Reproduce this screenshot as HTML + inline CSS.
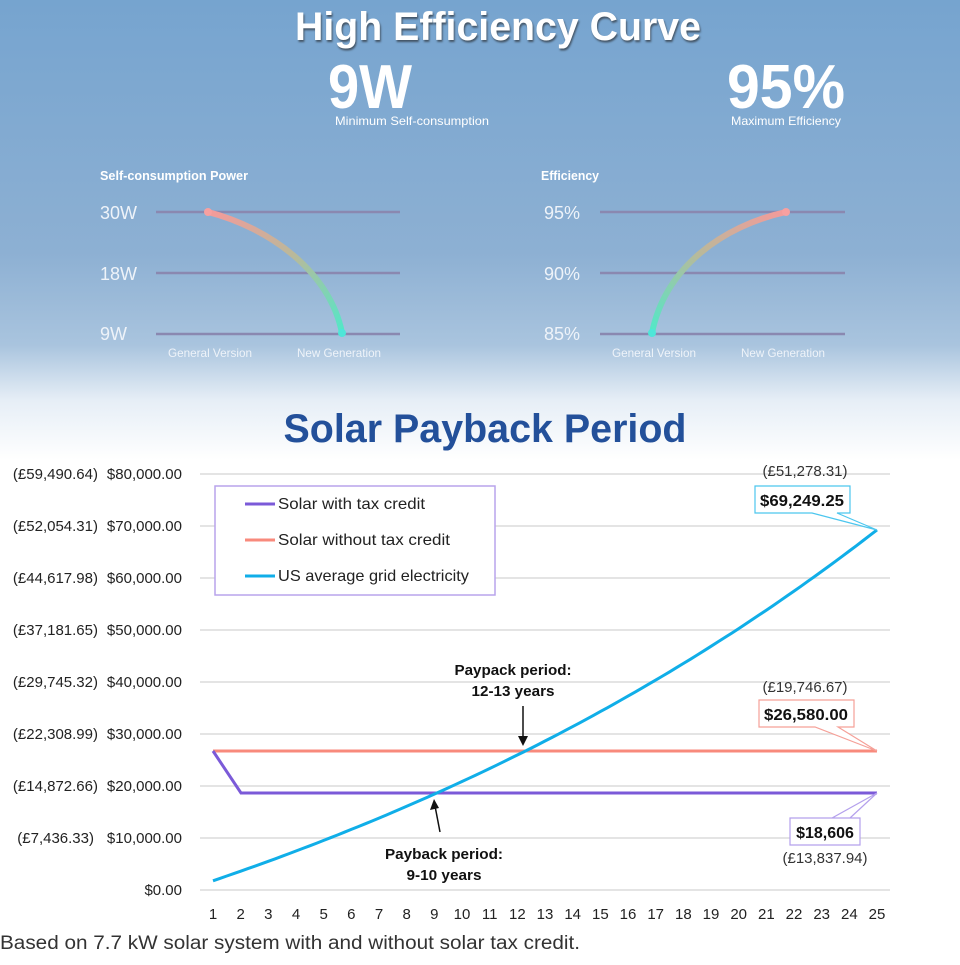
<!DOCTYPE html>
<html><head><meta charset="utf-8"><style>
body{margin:0;width:960px;height:960px;overflow:hidden;font-family:"Liberation Sans",sans-serif;background:#fff}
</style></head><body>
<svg width="960" height="960" viewBox="0 0 960 960" xmlns="http://www.w3.org/2000/svg">
<defs>
<linearGradient id="sky" x1="0" y1="0" x2="0" y2="1">
<stop offset="0" stop-color="#76a4cf"/>
<stop offset="0.55" stop-color="#8db0d3"/>
<stop offset="0.75" stop-color="#a9c4de"/>
<stop offset="0.87" stop-color="#e6eef6"/>
<stop offset="1" stop-color="#ffffff"/>
</linearGradient>
<linearGradient id="g1" x1="0" y1="0" x2="1" y2="1"><stop offset="0" stop-color="#f59a9a"/><stop offset="0.5" stop-color="#b9b99a"/><stop offset="1" stop-color="#52e8c8"/></linearGradient>
<linearGradient id="g2" x1="1" y1="0" x2="0" y2="1"><stop offset="0" stop-color="#f59a9a"/><stop offset="0.5" stop-color="#b9b99a"/><stop offset="1" stop-color="#52e8c8"/></linearGradient>
</defs>
<rect x="0" y="0" width="960" height="460" fill="url(#sky)"/>
<g font-family="Liberation Sans Narrow, Liberation Sans, sans-serif" fill="#fff">
<text x="498" y="40" font-size="40" font-weight="bold" text-anchor="middle" textLength="406" lengthAdjust="spacingAndGlyphs" style="text-shadow:1px 2px 2px #456">High Efficiency Curve</text>
<text x="370" y="108" font-size="62" font-weight="bold" text-anchor="middle" textLength="84" lengthAdjust="spacingAndGlyphs">9W</text>
<text x="412" y="125" font-size="12" text-anchor="middle" textLength="154" lengthAdjust="spacingAndGlyphs">Minimum Self-consumption</text>
<text x="786" y="108" font-size="62" font-weight="bold" text-anchor="middle" textLength="118" lengthAdjust="spacingAndGlyphs">95%</text>
<text x="786" y="125" font-size="12" text-anchor="middle" textLength="110" lengthAdjust="spacingAndGlyphs">Maximum Efficiency</text>
<text x="100" y="180" font-size="13" font-weight="bold" textLength="148" lengthAdjust="spacingAndGlyphs">Self-consumption Power</text>
<text x="541" y="180" font-size="13" font-weight="bold" textLength="58" lengthAdjust="spacingAndGlyphs">Efficiency</text>
<g font-size="18" fill="#eef3f9">
<text x="100" y="219">30W</text><text x="100" y="280">18W</text><text x="100" y="340">9W</text>
<text x="544" y="219">95%</text><text x="544" y="280">90%</text><text x="544" y="340">85%</text>
</g>
<g font-size="12" fill="#eef3f9" text-anchor="middle">
<text x="210" y="357" textLength="84" lengthAdjust="spacingAndGlyphs">General Version</text><text x="339" y="357" textLength="84" lengthAdjust="spacingAndGlyphs">New Generation</text>
<text x="654" y="357" textLength="84" lengthAdjust="spacingAndGlyphs">General Version</text><text x="783" y="357" textLength="84" lengthAdjust="spacingAndGlyphs">New Generation</text>
</g>
</g>
<g stroke="#8a88b0" stroke-width="2.5">
<line x1="156" y1="212" x2="400" y2="212"/><line x1="156" y1="273" x2="400" y2="273"/><line x1="156" y1="334" x2="400" y2="334"/>
<line x1="600" y1="212" x2="845" y2="212"/><line x1="600" y1="273" x2="845" y2="273"/><line x1="600" y1="334" x2="845" y2="334"/>
</g>
<path d="M208 212 C270 228 330 272 342 333" stroke="url(#g1)" stroke-width="6" fill="none" stroke-linecap="round"/>
<path d="M652 333 C665 268 722 226 786 212" stroke="url(#g2)" stroke-width="6" fill="none" stroke-linecap="round"/>
<circle cx="208" cy="212" r="4" fill="#f7a0a0"/><circle cx="342" cy="333" r="4" fill="#4ee6d8"/>
<circle cx="786" cy="212" r="4" fill="#f7a0a0"/><circle cx="652" cy="333" r="4" fill="#4ee6d8"/>
<text x="485" y="442" font-size="40" font-weight="bold" fill="#23509a" text-anchor="middle" textLength="403" lengthAdjust="spacingAndGlyphs" font-family="Liberation Sans Narrow, Liberation Sans, sans-serif">Solar Payback Period</text>

<g stroke="#e4e4e4" stroke-width="2">
<line x1="200" y1="474" x2="890" y2="474"/><line x1="200" y1="526" x2="890" y2="526"/><line x1="200" y1="578" x2="890" y2="578"/><line x1="200" y1="630" x2="890" y2="630"/><line x1="200" y1="682" x2="890" y2="682"/><line x1="200" y1="734" x2="890" y2="734"/><line x1="200" y1="786" x2="890" y2="786"/><line x1="200" y1="838" x2="890" y2="838"/><line x1="200" y1="890" x2="890" y2="890"/>
</g>
<g font-size="15" fill="#222" text-anchor="end">
<text x="182" y="479">$80,000.00</text><text x="182" y="531">$70,000.00</text><text x="182" y="583">$60,000.00</text><text x="182" y="635">$50,000.00</text><text x="182" y="687">$40,000.00</text><text x="182" y="739">$30,000.00</text><text x="182" y="791">$20,000.00</text><text x="182" y="843">$10,000.00</text><text x="182" y="895">$0.00</text>
<text x="98" y="479">(£59,490.64)</text><text x="98" y="531">(£52,054.31)</text><text x="98" y="583">(£44,617.98)</text><text x="98" y="635">(£37,181.65)</text><text x="98" y="687">(£29,745.32)</text><text x="98" y="739">(£22,308.99)</text><text x="98" y="791">(£14,872.66)</text><text x="94" y="843">(£7,436.33)</text>
</g>
<g id="xt" font-size="15" fill="#222" text-anchor="middle"></g>
<polyline points="213,751 877,751" stroke="#f88a7c" stroke-width="3" fill="none"/>
<polyline points="213,751 241,793 877,793" stroke="#7b5ad8" stroke-width="3" fill="none"/>
<polyline id="blue" points="" stroke="#10aee8" stroke-width="3" fill="none"/>
<rect x="215" y="486" width="280" height="109" fill="#fff" stroke="#b8a4ec" stroke-width="1.5"/>
<line x1="245" y1="504" x2="275" y2="504" stroke="#7b5ad8" stroke-width="3"/>
<line x1="245" y1="540" x2="275" y2="540" stroke="#f88a7c" stroke-width="3"/>
<line x1="245" y1="576" x2="275" y2="576" stroke="#10aee8" stroke-width="3"/>
<g font-size="16" fill="#222"><text x="278" y="509" textLength="147" lengthAdjust="spacingAndGlyphs">Solar with tax credit</text><text x="278" y="545" textLength="172" lengthAdjust="spacingAndGlyphs">Solar without tax credit</text><text x="278" y="581" textLength="191" lengthAdjust="spacingAndGlyphs">US average grid electricity</text></g>
<g font-size="15" font-weight="bold" fill="#111" text-anchor="middle">
<text x="513" y="675" textLength="117" lengthAdjust="spacingAndGlyphs">Paypack period:</text><text x="513" y="696" textLength="83" lengthAdjust="spacingAndGlyphs">12-13 years</text>
<text x="444" y="859" textLength="118" lengthAdjust="spacingAndGlyphs">Payback period:</text><text x="444" y="880" textLength="75" lengthAdjust="spacingAndGlyphs">9-10 years</text>
</g>
<line x1="523" y1="706" x2="523" y2="740" stroke="#111" stroke-width="1.5"/><path d="M518 736 L523 746 L528 736Z" fill="#111"/>
<line x1="440" y1="832" x2="435" y2="806" stroke="#111" stroke-width="1.5"/><path d="M430 810 L434 799 L439 808Z" fill="#111"/>
<path d="M755 486 H850 V513 H837 L877 530 L812 513 H755Z" fill="#fff" stroke="#4cc6ee" stroke-width="1.2"/>
<path d="M759 700 H854 V727 H838 L877 751 L815 727 H759Z" fill="#fff" stroke="#f5a098" stroke-width="1.2"/>
<path d="M790 818 H860 V845 H790 V818 H832 L877 793 L850 818Z" fill="#fff" stroke="#b4a0ec" stroke-width="1.2"/>
<g font-size="16" font-weight="bold" fill="#111" text-anchor="middle">
<text x="802" y="506" textLength="84" lengthAdjust="spacingAndGlyphs">$69,249.25</text><text x="806" y="720" textLength="84" lengthAdjust="spacingAndGlyphs">$26,580.00</text><text x="825" y="838">$18,606</text>
</g>
<g font-size="15" fill="#333" text-anchor="middle">
<text x="805" y="476" textLength="85" lengthAdjust="spacingAndGlyphs">(£51,278.31)</text><text x="805" y="692" textLength="85" lengthAdjust="spacingAndGlyphs">(£19,746.67)</text><text x="825" y="863" textLength="85" lengthAdjust="spacingAndGlyphs">(£13,837.94)</text>
</g>
<text x="0" y="949" font-size="19" fill="#333" textLength="580" lengthAdjust="spacingAndGlyphs">Based on 7.7 kW solar system with and without solar tax credit.</text>
</svg>
<script>
var xt=document.getElementById('xt'),pts=[];
for(var i=1;i<=25;i++){var x=213+(i-1)*27.667;
var t=document.createElementNS('http://www.w3.org/2000/svg','text');t.setAttribute('x',x);t.setAttribute('y',919);t.textContent=i;xt.appendChild(t);}
var a=69249.25*0.035/(Math.pow(1.035,25)-1);
for(var n=1;n<=25;n+=0.25){var v=a*(Math.pow(1.035,n)-1)/0.035;pts.push((213+(n-1)*27.667).toFixed(1)+','+(890-v*52/10000).toFixed(1));}
document.getElementById('blue').setAttribute('points',pts.join(' '));
</script>
</body></html>
